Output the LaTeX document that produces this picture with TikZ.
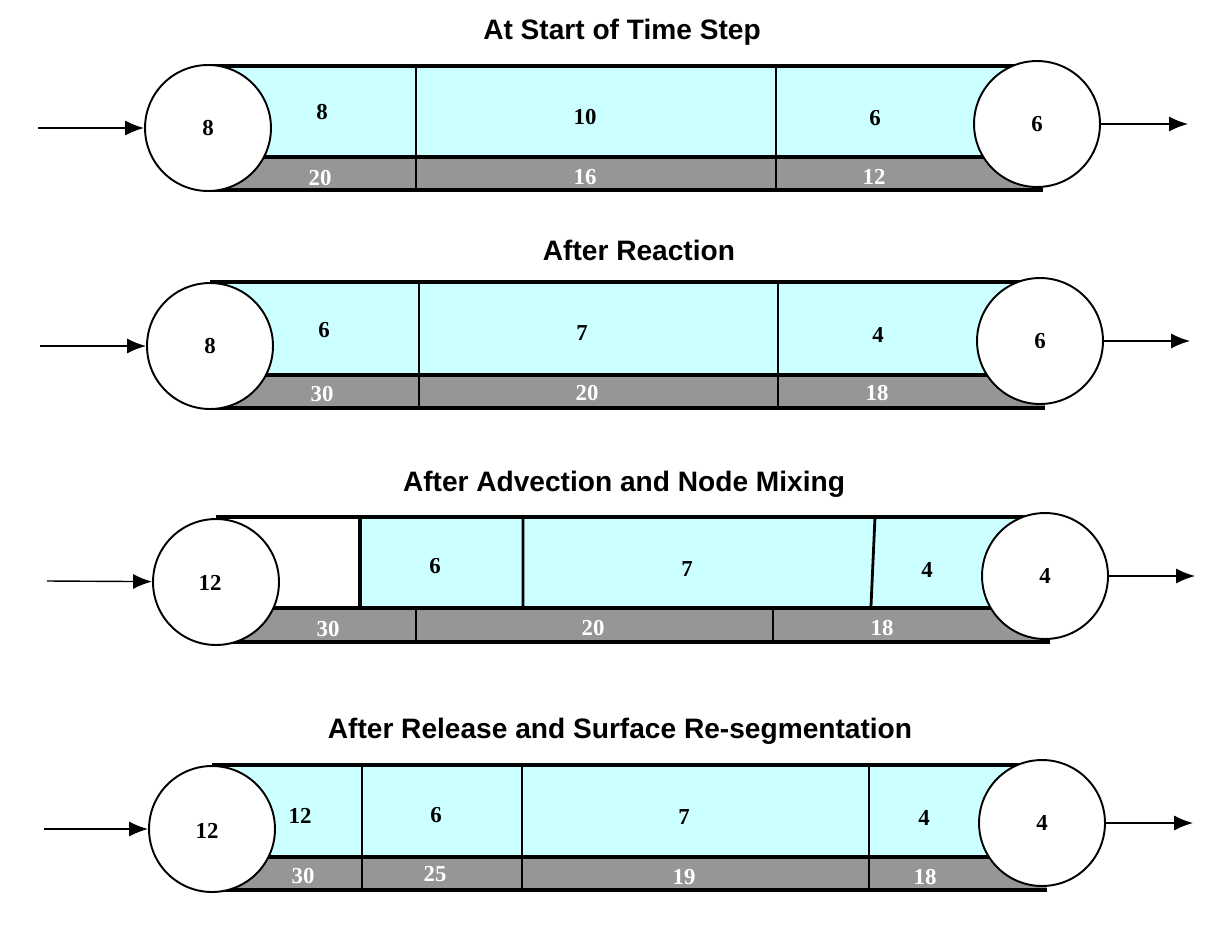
\documentclass[tikz,border=0pt]{standalone}
\usepackage{fontspec}
\setmainfont{Liberation Serif}
\newfontfamily\headfont{Liberation Sans}
\usetikzlibrary{arrows.meta}

\definecolor{water}{HTML}{CCFFFF}
\definecolor{sediment}{HTML}{969696}

\tikzset{
	pool/.style = {draw, circle, fill = white, line width = 1.1pt, minimum size = 2.52cm, inner sep = 0pt, font = \fontsize{13}{15}\selectfont\bfseries},
	head/.style = {font = \headfont\fontsize{16}{19}\selectfont\bfseries},
	wnum/.style = {font = \fontsize{13}{15}\selectfont\bfseries},
	snum/.style = {wnum, text = white},
	wall/.style = {line width = 2.2pt},
	cut/.style = {line width = 1.6pt},
	flow/.style = {-{Latex[length = 3.8mm, width = 3mm]}, line width = 0.8pt}
}

\begin{document}
\begin{tikzpicture}[x = 0.02cm, y = -0.02cm]

	\useasboundingbox (0, 0) rectangle (1217, 933);

	% At start of time step
	
	\node [head] (t1) at (622, 32) {At Start of Time Step};
	
	\fill [water] (207, 66) rectangle (1043, 157);
	\fill [sediment] (207, 157) rectangle (1043, 190);
	\draw [wall] (207, 66) -- (1043, 66) (207, 157) -- (1043, 157) (207, 190) -- (1043, 190);
	\draw [cut] (416, 66) -- (416, 190) (776, 66) -- (776, 190);
	
	\node [pool] (in1) at (208, 128) {8};
	\node [pool] (out1) at (1037, 124) {6};
	
	\node [wnum] (w11) at (322, 112) {8};
	\node [wnum] (w12) at (585, 117) {10};
	\node [wnum] (w13) at (875, 118) {6};
	\node [snum] (s11) at (320, 178) {20};
	\node [snum] (s12) at (585, 177) {16};
	\node [snum] (s13) at (874, 177) {12};
	
	\coordinate (a1) at (38, 128);
	\coordinate (b1) at (1188, 124);
	\draw [flow] (a1) -- (in1);
	\draw [flow] (out1) -- (b1);
	
	% After reaction
	
	\node [head] (t2) at (639, 250) {After Reaction};
	
	\fill [water] (210, 282) rectangle (1045, 375);
	\fill [sediment] (210, 375) rectangle (1045, 408);
	\draw [wall] (210, 282) -- (1045, 282) (210, 375) -- (1045, 375) (210, 408) -- (1045, 408);
	\draw [cut] (419, 282) -- (419, 408) (778, 282) -- (778, 408);
	
	\node [pool] (in2) at (210, 346) {8};
	\node [pool] (out2) at (1040, 341) {6};
	
	\node [wnum] (w21) at (324, 330) {6};
	\node [wnum] (w22) at (582, 333) {7};
	\node [wnum] (w23) at (878, 335) {4};
	\node [snum] (s21) at (322, 394) {30};
	\node [snum] (s22) at (587, 393) {20};
	\node [snum] (s23) at (877, 393) {18};
	
	\coordinate (a2) at (40, 346);
	\coordinate (b2) at (1190, 341);
	\draw [flow] (a2) -- (in2);
	\draw [flow] (out2) -- (b2);
	
	% After advection and node mixing
	
	\node [head] (t3) at (624, 484) {After Advection and Node Mixing};
	
	\fill [water] (360, 517) rectangle (1050, 608);
	\fill [sediment] (216, 608) rectangle (1050, 642);
	\draw [wall] (216, 517) -- (1050, 517) (216, 608) -- (1050, 608) (216, 642) -- (1050, 642);
	\draw [wall] (360, 517) -- (360, 608);
	\draw [cut] (523, 517) -- (523, 606) (875, 517) -- (871, 606);
	\draw [cut] (416, 608) -- (416, 642) (773, 608) -- (773, 642);
	
	\node [pool] (in3) at (216, 582) {};
	\node [pool] (out3) at (1045, 576) {4};
	\node [wnum] (c3) at (210, 583) {12};
	
	\node [wnum] (w31) at (435, 566) {6};
	\node [wnum] (w32) at (687, 569) {7};
	\node [wnum] (w33) at (927, 570) {4};
	\node [snum] (s31) at (328, 629) {30};
	\node [snum] (s32) at (593, 628) {20};
	\node [snum] (s33) at (882, 628) {18};
	
	\coordinate (a3) at (47, 581);
	\coordinate (b3) at (1195, 576);
	\draw [flow] (a3) -- (in3);
	\draw [flow] (out3) -- (b3);
	
	% After release and surface re-segmentation
	
	\node [head] (t4) at (620, 731) {After Release and Surface Re-segmentation};
	
	\fill [water] (212, 765) rectangle (1047, 857);
	\fill [sediment] (212, 857) rectangle (1047, 890);
	\draw [wall] (212, 765) -- (1047, 765) (212, 857) -- (1047, 857) (212, 890) -- (1047, 890);
	\draw [cut] (362, 765) -- (362, 890) (522, 765) -- (522, 890) (869, 765) -- (869, 890);
	
	\node [pool] (in4) at (212, 829) {};
	\node [pool] (out4) at (1042, 823) {4};
	\node [wnum] (c4) at (207, 831) {12};
	
	\node [wnum] (w41) at (300, 816) {12};
	\node [wnum] (w42) at (436, 815) {6};
	\node [wnum] (w43) at (684, 817) {7};
	\node [wnum] (w44) at (924, 818) {4};
	\node [snum] (s41) at (303, 876) {30};
	\node [snum] (s42) at (435, 874) {25};
	\node [snum] (s43) at (684, 877) {19};
	\node [snum] (s44) at (925, 877) {18};
	
	\coordinate (a4) at (44, 829);
	\coordinate (b4) at (1193, 823);
	\draw [flow] (a4) -- (in4);
	\draw [flow] (out4) -- (b4);

\end{tikzpicture}
\end{document}
